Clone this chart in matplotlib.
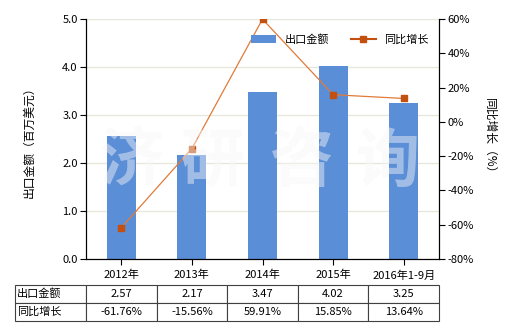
import numpy as np
import matplotlib
matplotlib.use("Agg")
import matplotlib.pyplot as plt
from matplotlib.lines import Line2D
from matplotlib.patches import Patch

plt.rcParams['font.family'] = ['Noto Sans CJK SC', 'DejaVu Sans']

# data
years = ['2012年', '2013年', '2014年', '2015年', '2016年1-9月']
export_value = [2.57, 2.17, 3.47, 4.02, 3.25]
growth = [-61.76, -15.56, 59.91, 15.85, 13.64]
value_labels = ['2.57', '2.17', '3.47', '4.02', '3.25']
growth_labels = ['-61.76%', '-15.56%', '59.91%', '15.85%', '13.64%']

bar_color = '#5a8ed6'
line_color = '#e07b39'
marker_color = '#c4500f'

fig = plt.figure(figsize=(5.2, 3.3), dpi=100)
ax = fig.add_axes([86/520, 71/330, 353/520, 240/330])
x = np.arange(len(years))

ax.bar(x, export_value, width=0.41, color=bar_color, zorder=2)
ax.set_xlim(-0.5, len(years) - 0.5)
ax.set_ylim(0, 5)
ax.set_yticks(np.arange(0, 5.1, 1.0))
ax.set_yticklabels(['%.1f' % v for v in np.arange(0, 5.1, 1.0)], fontsize=8)
ax.set_xticks(x)
ax.set_xticklabels(years, fontsize=8)
ax.grid(axis='y', color='#e6e6da', linewidth=0.9, zorder=0)
ax.set_axisbelow(True)
ax.spines['top'].set_visible(False)
ax.tick_params(axis='y', length=4, width=0.8, pad=2)
ax.tick_params(axis='x', length=4, width=0.8, pad=4)
ax.set_ylabel('出口金额（百万美元）', fontsize=8.5, labelpad=19)

ax2 = ax.twinx()
ax2.plot(x, growth, color=line_color, linewidth=0.9, marker='s', markersize=4.5,
         markerfacecolor=marker_color, markeredgecolor=marker_color, zorder=3)
ax2.set_ylim(-80, 60)
ax2.set_yticks(np.arange(-80, 61, 20))
ax2.set_yticklabels(['%d%%' % v for v in np.arange(-80, 61, 20)], fontsize=8)
ax2.spines['top'].set_visible(False)
ax2.tick_params(axis='y', length=4, width=0.8, pad=2)
ax2.set_ylabel('同比增长（%）', fontsize=8.5, rotation=270, labelpad=16)

# watermark
for ch, cx in zip('济研咨询', [132, 213, 302, 388]):
    fig.text(cx / 520, 1 - 162 / 330, ch, fontsize=46, color='white', alpha=0.38,
             ha='center', va='center', fontweight='bold', zorder=10)
    fig.text(cx / 520, 1 - 162 / 330, ch, fontsize=46, color='#d8d8d8', alpha=0.12,
             ha='center', va='center', fontweight='bold', zorder=1)

handles = [Patch(facecolor=bar_color), Line2D([0], [0], color=marker_color, marker='s',
                                               markersize=4.5, linewidth=1.5)]
ax2.legend(handles, ['出口金额', '同比增长'], loc='upper right', bbox_to_anchor=(1.0, 0.98),
           ncol=2, frameon=False, fontsize=8, handlelength=2.2, columnspacing=2.0)

# data table under the chart
cells = [['出口金额'] + value_labels, ['同比增长'] + growth_labels]
tbl = ax.table(cellText=cells, cellLoc='center',
               colWidths=[71] + [70.6] * 5,
               bbox=[(15 - 86) / 353, (259 - 321) / 240, 424 / 353, 36 / 240])
tbl.auto_set_font_size(False)
tbl.set_fontsize(8)
for (r, c), cell in tbl.get_celld().items():
    cell.set_edgecolor('#404040')
    cell.set_linewidth(0.8)
    if c == 0:
        cell.PAD = 0.03
        cell.get_text().set_horizontalalignment('left')

fig.savefig('out.png', dpi=100)
